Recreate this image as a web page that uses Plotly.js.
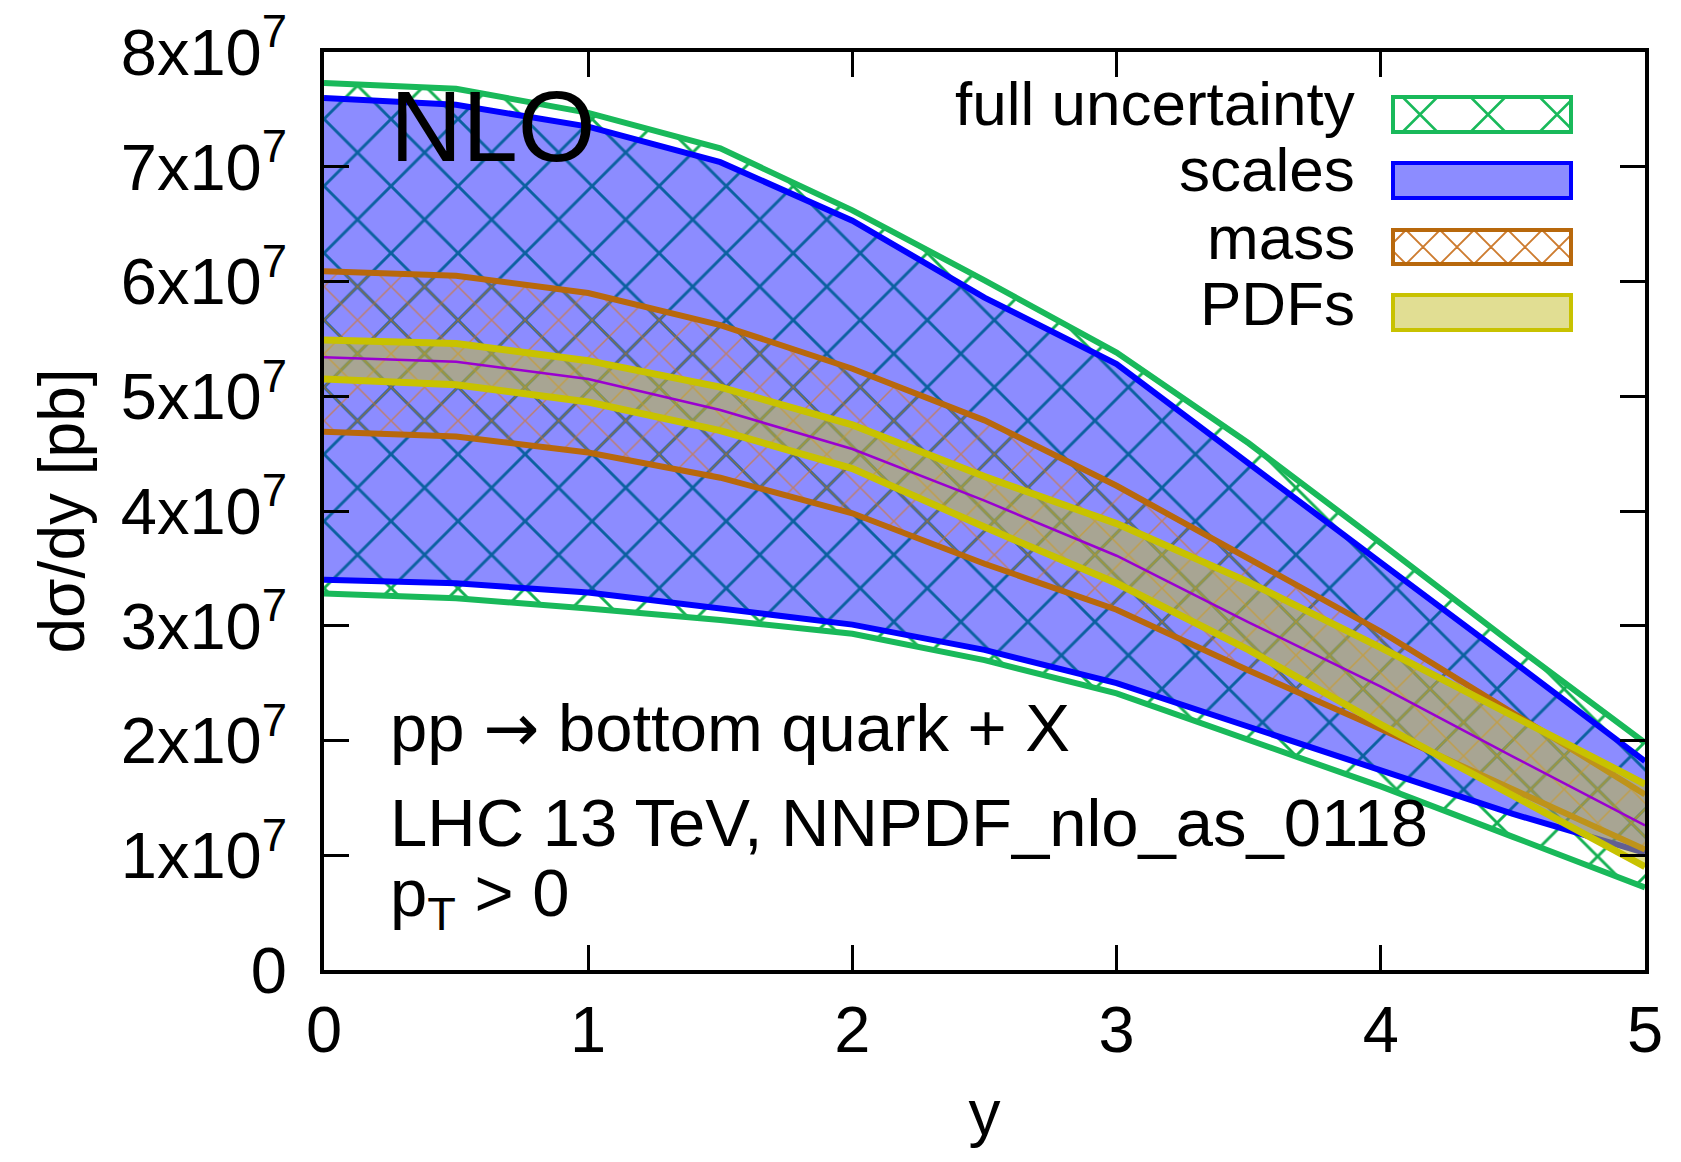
<!DOCTYPE html>
<html>
<head>
<meta charset="utf-8">
<script src="https://cdn.plot.ly/plotly-3.0.1.min.js"></script>
<style>
  html, body { margin: 0; padding: 0; background: #ffffff; }
  #chart { width: 1681px; height: 1162px; }
</style>
</head>
<body>
<div id="chart"></div>
<script>
// ---------------- data ----------------
const rapidity = [0, 0.5, 1, 1.5, 2, 2.5, 3, 3.5, 4, 4.5, 5];

const fullUpper   = [7.73e7, 7.68e7, 7.47e7, 7.16e7, 6.62e7, 6.01e7, 5.38e7, 4.59e7, 3.72e7, 2.84e7, 1.98e7];
const fullLower   = [3.28e7, 3.24e7, 3.15e7, 3.05e7, 2.93e7, 2.70e7, 2.41e7, 2.00e7, 1.60e7, 1.16e7, 0.72e7];
const scalesUpper = [7.60e7, 7.54e7, 7.35e7, 7.04e7, 6.53e7, 5.86e7, 5.28e7, 4.41e7, 3.55e7, 2.69e7, 1.82e7];
const scalesLower = [3.40e7, 3.37e7, 3.29e7, 3.15e7, 3.01e7, 2.79e7, 2.50e7, 2.12e7, 1.74e7, 1.36e7, 1.02e7];
const massUpper   = [6.09e7, 6.05e7, 5.90e7, 5.62e7, 5.24e7, 4.79e7, 4.22e7, 3.59e7, 2.95e7, 2.24e7, 1.53e7];
const massLower   = [4.69e7, 4.65e7, 4.51e7, 4.29e7, 3.98e7, 3.54e7, 3.14e7, 2.61e7, 2.10e7, 1.58e7, 1.05e7];
const pdfUpper    = [5.49e7, 5.46e7, 5.31e7, 5.08e7, 4.75e7, 4.30e7, 3.89e7, 3.38e7, 2.81e7, 2.22e7, 1.62e7];
const pdfLower    = [5.15e7, 5.10e7, 4.95e7, 4.70e7, 4.37e7, 3.86e7, 3.37e7, 2.79e7, 2.14e7, 1.52e7, 0.90e7];
const central     = [5.34e7, 5.30e7, 5.15e7, 4.88e7, 4.54e7, 4.09e7, 3.61e7, 3.03e7, 2.47e7, 1.86e7, 1.26e7];

const xTickVals  = [0, 1, 2, 3, 4, 5];
const xTickText  = ['0', '1', '2', '3', '4', '5'];
const yTickVals  = [0, 1e7, 2e7, 3e7, 4e7, 5e7, 6e7, 7e7, 8e7];
const yTickText  = ['0', '1x10<sup>7</sup>', '2x10<sup>7</sup>', '3x10<sup>7</sup>', '4x10<sup>7</sup>',
                    '5x10<sup>7</sup>', '6x10<sup>7</sup>', '7x10<sup>7</sup>', '8x10<sup>7</sup>'];

const legendLabels = ['full uncertainty', 'scales', 'mass', 'PDFs'];
const infoLines = ['pp <span style="font-family:DejaVu Sans">\u2192</span> bottom quark + X',
                   'LHC 13 TeV, NNPDF_nlo_as_0118', 'p<sub>T</sub> > 0'];

// ---------------- styles ----------------
const FONT = 'Liberation Sans, Arial, Helvetica, sans-serif';
const GREEN = '#19b95a';
const BLUE = '#0000ff';
const BROWN = '#b8680c';
const YELLOW = '#c8c200';
const PURPLE = '#9a00d0';

// plot-area geometry in pixels
const W = 1681, H = 1162;
const L = 324, R = 1645, T = 52, B = 970;
const px2x = px => (px - L) / (R - L);
const py2y = py => (B - py) / (B - T);

const LW = 6;

const traces = [
  // full uncertainty band (green hatch)
  { x: rapidity, y: fullLower, mode: 'lines', line: { color: GREEN, width: LW }, showlegend: false, hoverinfo: 'skip' },
  { x: rapidity, y: fullUpper, mode: 'lines', line: { color: GREEN, width: LW }, fill: 'tonexty',
    fillcolor: 'rgba(0,0,0,0)',
    fillpattern: { shape: 'x', fgcolor: '#14b052', fgopacity: 1, bgcolor: 'rgba(0,0,0,0)', size: 47.4, solidity: 0.12, fillmode: 'overlay' },
    showlegend: false, hoverinfo: 'skip' },
  // scales band (translucent blue)
  { x: rapidity, y: scalesLower, mode: 'lines', line: { color: BLUE, width: LW }, showlegend: false, hoverinfo: 'skip' },
  { x: rapidity, y: scalesUpper, mode: 'lines', line: { color: BLUE, width: LW }, fill: 'tonexty',
    fillcolor: 'rgba(0,0,255,0.45)', showlegend: false, hoverinfo: 'skip' },
  // mass band (brown hatch)
  { x: rapidity, y: massLower, mode: 'lines', line: { color: BROWN, width: LW }, showlegend: false, hoverinfo: 'skip' },
  { x: rapidity, y: massUpper, mode: 'lines', line: { color: BROWN, width: LW }, fill: 'tonexty',
    fillcolor: 'rgba(0,0,0,0)',
    fillpattern: { shape: 'x', fgcolor: 'rgb(215,118,28)', fgopacity: 0.65, bgcolor: 'rgba(0,0,0,0)', size: 23.7, solidity: 0.12, fillmode: 'overlay' },
    showlegend: false, hoverinfo: 'skip' },
  // PDF band (translucent olive/yellow)
  { x: rapidity, y: pdfLower, mode: 'lines', line: { color: YELLOW, width: 7 }, showlegend: false, hoverinfo: 'skip' },
  { x: rapidity, y: pdfUpper, mode: 'lines', line: { color: YELLOW, width: 7 }, fill: 'tonexty',
    fillcolor: 'rgba(195,190,40,0.5)', showlegend: false, hoverinfo: 'skip' },
  // central value
  { x: rapidity, y: central, mode: 'lines', line: { color: PURPLE, width: 2.5 }, showlegend: false, hoverinfo: 'skip' }
];

// ---------------- hand-made legend (text left, swatch right) ----------------
const swX0 = 1393, swX1 = 1571;
const rows = [
  { top: 97,  bot: 132 },
  { top: 163, bot: 198 },
  { top: 230, bot: 264 },
  { top: 295, bot: 330 }
];
const labelCenters = [104, 170, 237, 303];

// clip a segment to a box (Liang-Barsky)
function clipSeg(x0, y0, x1, y1, xmin, xmax, ymin, ymax) {
  let t0 = 0, t1 = 1;
  const dx = x1 - x0, dy = y1 - y0;
  const p = [-dx, dx, -dy, dy];
  const q = [x0 - xmin, xmax - x0, y0 - ymin, ymax - y0];
  for (let i = 0; i < 4; i++) {
    if (p[i] === 0) { if (q[i] < 0) return null; }
    else {
      const t = q[i] / p[i];
      if (p[i] < 0) { if (t > t1) return null; if (t > t0) t0 = t; }
      else { if (t < t0) return null; if (t < t1) t1 = t; }
    }
  }
  return [x0 + t0 * dx, y0 + t0 * dy, x0 + t1 * dx, y0 + t1 * dy];
}
function hatchPath(centers, half, top, bot, xmin, xmax) {
  let d = '';
  centers.forEach(c => {
    const segs = [[c - half, top, c + half, bot], [c - half, bot, c + half, top]];
    segs.forEach(s => {
      const k = clipSeg(s[0], s[1], s[2], s[3], xmin, xmax, top, bot);
      if (k) d += 'M' + px2x(k[0]).toFixed(5) + ',' + py2y(k[1]).toFixed(5) +
                  'L' + px2x(k[2]).toFixed(5) + ',' + py2y(k[3]).toFixed(5);
    });
  });
  return d;
}

const shapes = [];
// full uncertainty swatch
shapes.push({ type: 'path', xref: 'paper', yref: 'paper',
  path: hatchPath([1420, 1488, 1557], 17.5, rows[0].top, rows[0].bot, swX0, swX1),
  line: { color: GREEN, width: 2.5 } });
shapes.push({ type: 'rect', xref: 'paper', yref: 'paper', x0: px2x(swX0), x1: px2x(swX1),
  y0: py2y(rows[0].bot), y1: py2y(rows[0].top), fillcolor: 'rgba(0,0,0,0)', line: { color: GREEN, width: 4 } });
// scales swatch
shapes.push({ type: 'rect', xref: 'paper', yref: 'paper', x0: px2x(swX0), x1: px2x(swX1),
  y0: py2y(rows[1].bot), y1: py2y(rows[1].top), fillcolor: 'rgba(0,0,255,0.45)', line: { color: BLUE, width: 4 } });
// mass swatch
const massCenters = [];
for (let c = 1389; c <= 1600; c += 34) massCenters.push(c);
shapes.push({ type: 'path', xref: 'paper', yref: 'paper',
  path: hatchPath(massCenters, 17, rows[2].top, rows[2].bot, swX0, swX1),
  line: { color: 'rgba(200,110,25,0.9)', width: 1.8 } });
shapes.push({ type: 'rect', xref: 'paper', yref: 'paper', x0: px2x(swX0), x1: px2x(swX1),
  y0: py2y(rows[2].bot), y1: py2y(rows[2].top), fillcolor: 'rgba(0,0,0,0)', line: { color: BROWN, width: 4 } });
// PDFs swatch
shapes.push({ type: 'rect', xref: 'paper', yref: 'paper', x0: px2x(swX0), x1: px2x(swX1),
  y0: py2y(rows[3].bot), y1: py2y(rows[3].top), fillcolor: 'rgba(195,190,40,0.5)', line: { color: YELLOW, width: 4 } });

const annotations = [];
legendLabels.forEach((t, i) => {
  annotations.push({ xref: 'paper', yref: 'paper', x: px2x(1357), y: py2y(labelCenters[i]),
    xanchor: 'right', yanchor: 'middle', showarrow: false, text: t,
    font: { family: FONT, size: 62, color: '#000' } });
});
annotations.push({ xref: 'paper', yref: 'paper', x: px2x(388), y: py2y(126),
  xanchor: 'left', yanchor: 'middle', showarrow: false, text: 'NLO',
  font: { family: FONT, size: 100, color: '#000' } });
const infoCenters = [728, 822, 897];
infoLines.forEach((t, i) => {
  annotations.push({ xref: 'paper', yref: 'paper', x: px2x(388), y: py2y(infoCenters[i]),
    xanchor: 'left', yanchor: 'middle', showarrow: false, text: t,
    font: { family: FONT, size: 67, color: '#000' } });
});

const axisCommon = {
  showline: true, linecolor: '#000', linewidth: 4, mirror: 'ticks',
  ticks: 'inside', ticklen: 25, tickwidth: 3, tickcolor: '#000',
  showgrid: false, zeroline: false,
  tickfont: { family: FONT, size: 65, color: '#000' }
};

const layout = {
  width: W, height: H,
  paper_bgcolor: '#ffffff', plot_bgcolor: '#ffffff',
  margin: { l: L, r: W - R, t: T, b: H - B, pad: 0 },
  showlegend: false,
  xaxis: Object.assign({}, axisCommon, {
    range: [0, 5], tickmode: 'array', tickvals: xTickVals, ticktext: xTickText,
    ticklabelstandoff: 0,
    title: { text: 'y', font: { family: FONT, size: 64, color: '#000' }, standoff: 26 },
    automargin: false
  }),
  yaxis: Object.assign({}, axisCommon, {
    range: [0, 8e7], tickmode: 'array', tickvals: yTickVals, ticktext: yTickText,
    ticklabelstandoff: 20,
    title: { text: 'd\u03c3/dy [pb]', font: { family: FONT, size: 64, color: '#000' }, standoff: 16 },
    automargin: false
  }),
  shapes: shapes,
  annotations: annotations
};

Plotly.newPlot('chart', traces, layout, { staticPlot: true, displayModeBar: false });
</script>
</body>
</html>
